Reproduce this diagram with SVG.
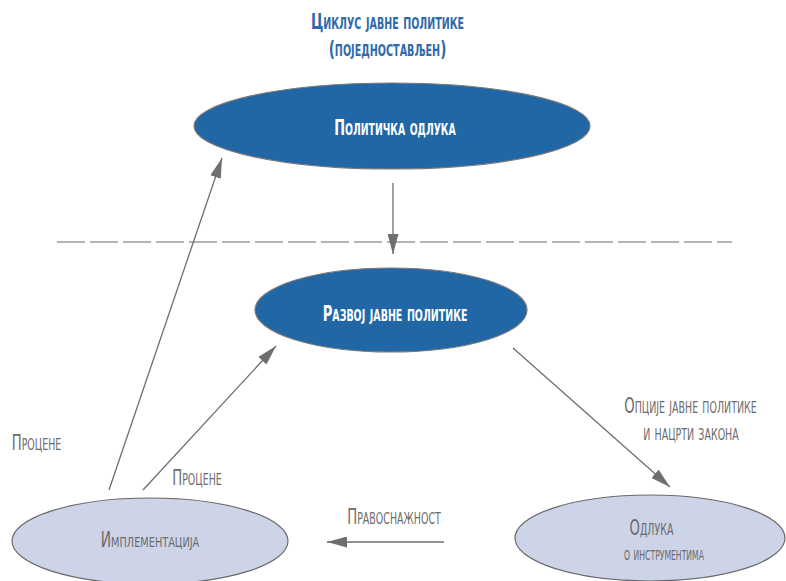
<svg xmlns="http://www.w3.org/2000/svg" width="786" height="581" viewBox="0 0 786 581">
<style>
text{font-family:"DejaVu Sans Condensed","DejaVu Sans","Liberation Sans",sans-serif;font-variant:small-caps;font-size:21px;text-anchor:middle}
.g{fill:#6b6b6b}
.w{fill:#ffffff;font-weight:bold}
.t{fill:#2f6aab;font-weight:bold}
.dark{fill:#2166a5;stroke:#7a7a7a;stroke-width:1.2}
.light{fill:#cdd4e8;stroke:#6a6a6a;stroke-width:1.2}
.c{stroke:#6e6e6e;stroke-width:1.3;fill:none;marker-end:url(#ah)}
</style>
<defs>
<marker id="ah" markerUnits="userSpaceOnUse" markerWidth="20" markerHeight="11" refX="20" refY="5.5" orient="auto">
<path d="M0,0 L20,5.5 L0,11 z" fill="#6e6e6e"/>
</marker>
</defs>
<rect width="786" height="581" fill="#ffffff"/>
<g id="title">
<text class="t" transform="translate(387.5,29) scale(0.705,1)">Циклус јавне политике</text>
<text class="t" transform="translate(387.5,56) scale(0.715,1)">(поједностављен)</text>
</g>
<line x1="57" y1="242" x2="732" y2="242" stroke="#9a9a9a" stroke-width="1.5" stroke-dasharray="28 5"/>
<g id="connectors">
<line class="c" x1="393" y1="183" x2="393" y2="254"/>
<line class="c" x1="109" y1="490" x2="222" y2="158"/>
<line class="c" x1="143" y1="490" x2="276" y2="346"/>
<line class="c" x1="513" y1="348" x2="670" y2="487"/>
<line class="c" x1="444" y1="542" x2="327" y2="542"/>
<text class="g" transform="translate(36.5,450) scale(0.7,1)">Процене</text>
<text class="g" transform="translate(197,485) scale(0.7,1)">Процене</text>
<text class="g" transform="translate(394,524) scale(0.7,1)">Правоснажност</text>
<text class="g" transform="translate(690.5,413) scale(0.7,1)">Опције јавне политике</text>
<text class="g" transform="translate(691,440) scale(0.7,1)">и нацрти закона</text>
</g>
<g id="politicka-odluka">
<ellipse class="dark" cx="392" cy="126" rx="198" ry="43"/>
<text class="w" transform="translate(395,135) scale(0.683,1)">Политичка одлука</text>
</g>
<g id="razvoj">
<ellipse class="dark" cx="391" cy="310" rx="136" ry="42"/>
<text class="w" transform="translate(395,321) scale(0.7,1)">Развој јавне политике</text>
</g>
<g id="implementacija">
<ellipse class="light" cx="150" cy="541" rx="138" ry="43"/>
<text class="g" transform="translate(150,547) scale(0.73,1)">Имплементација</text>
</g>
<g id="odluka">
<ellipse class="light" cx="650" cy="538" rx="135" ry="43"/>
<text class="g" transform="translate(651.5,535) scale(0.7,1)">Одлука</text>
<text class="g" transform="translate(664,560) scale(0.58,1)">о инструментима</text>
</g>
</svg>
